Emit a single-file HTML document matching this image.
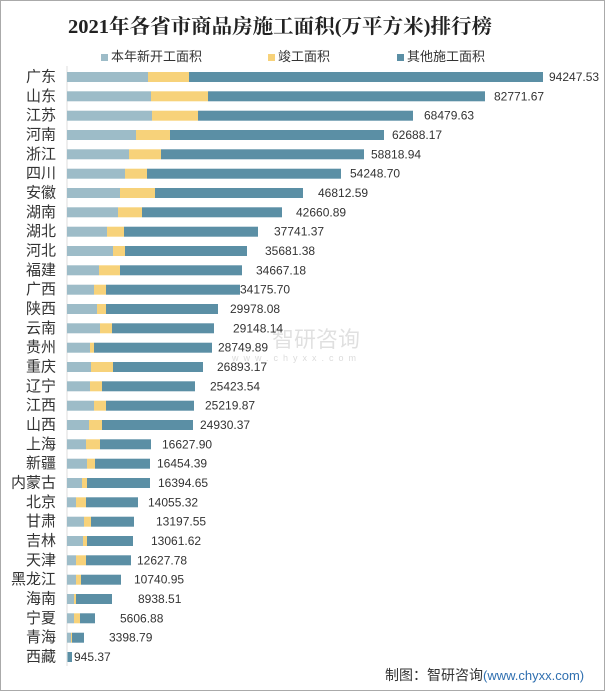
<!DOCTYPE html>
<html><head><meta charset="utf-8"><style>
html,body{margin:0;padding:0;background:#fff}
svg{display:block}
.c{font-family:"Liberation Sans","Noto Sans CJK SC",sans-serif;font-size:15px;fill:#333}
.v{font-family:"Liberation Sans",sans-serif;font-size:12px;fill:#333}
</style></head><body>
<svg width="605" height="691" xmlns="http://www.w3.org/2000/svg">
<rect x="0.5" y="0.5" width="604" height="690" fill="#fff" stroke="#aaa"/>
<text x="280" y="33" text-anchor="middle" textLength="424" lengthAdjust="spacingAndGlyphs" font-family="Liberation Serif,'Noto Serif CJK SC',serif" font-weight="bold" font-size="20" fill="#222">2021年各省市商品房施工面积(万平方米)排行榜</text>
<g font-family="Liberation Sans,'Noto Sans CJK SC',sans-serif" font-size="13" fill="#333">
<rect x="101" y="54" width="7" height="7" fill="#9dbcc8"/><text x="111" y="61">本年新开工面积</text>
<rect x="268" y="54" width="7" height="7" fill="#f7d27a"/><text x="278" y="61">竣工面积</text>
<rect x="397" y="54" width="7" height="7" fill="#5b8fa5"/><text x="407" y="61">其他施工面积</text>
</g>
<line x1="67" y1="66" x2="67" y2="666" stroke="#ddd"/>
<g id="bars">
<rect x="67" y="72" width="81" height="10" fill="#9dbcc8"/><rect x="148" y="72" width="41" height="10" fill="#f7d27a"/><rect x="189" y="72" width="354" height="10" fill="#5b8fa5"/>
<rect x="67" y="91.3" width="84" height="10" fill="#9dbcc8"/><rect x="151" y="91.3" width="57" height="10" fill="#f7d27a"/><rect x="208" y="91.3" width="277" height="10" fill="#5b8fa5"/>
<rect x="67" y="110.7" width="85" height="10" fill="#9dbcc8"/><rect x="152" y="110.7" width="46" height="10" fill="#f7d27a"/><rect x="198" y="110.7" width="215" height="10" fill="#5b8fa5"/>
<rect x="67" y="130" width="69" height="10" fill="#9dbcc8"/><rect x="136" y="130" width="34" height="10" fill="#f7d27a"/><rect x="170" y="130" width="214" height="10" fill="#5b8fa5"/>
<rect x="67" y="149.3" width="62" height="10" fill="#9dbcc8"/><rect x="129" y="149.3" width="32" height="10" fill="#f7d27a"/><rect x="161" y="149.3" width="203" height="10" fill="#5b8fa5"/>
<rect x="67" y="168.7" width="58" height="10" fill="#9dbcc8"/><rect x="125" y="168.7" width="22" height="10" fill="#f7d27a"/><rect x="147" y="168.7" width="194" height="10" fill="#5b8fa5"/>
<rect x="67" y="188" width="53" height="10" fill="#9dbcc8"/><rect x="120" y="188" width="35" height="10" fill="#f7d27a"/><rect x="155" y="188" width="148" height="10" fill="#5b8fa5"/>
<rect x="67" y="207.3" width="51" height="10" fill="#9dbcc8"/><rect x="118" y="207.3" width="24" height="10" fill="#f7d27a"/><rect x="142" y="207.3" width="140" height="10" fill="#5b8fa5"/>
<rect x="67" y="226.7" width="40" height="10" fill="#9dbcc8"/><rect x="107" y="226.7" width="17" height="10" fill="#f7d27a"/><rect x="124" y="226.7" width="134" height="10" fill="#5b8fa5"/>
<rect x="67" y="246" width="46" height="10" fill="#9dbcc8"/><rect x="113" y="246" width="12" height="10" fill="#f7d27a"/><rect x="125" y="246" width="122" height="10" fill="#5b8fa5"/>
<rect x="67" y="265.3" width="32" height="10" fill="#9dbcc8"/><rect x="99" y="265.3" width="21" height="10" fill="#f7d27a"/><rect x="120" y="265.3" width="122" height="10" fill="#5b8fa5"/>
<rect x="67" y="284.7" width="27" height="10" fill="#9dbcc8"/><rect x="94" y="284.7" width="12" height="10" fill="#f7d27a"/><rect x="106" y="284.7" width="134" height="10" fill="#5b8fa5"/>
<rect x="67" y="304" width="30" height="10" fill="#9dbcc8"/><rect x="97" y="304" width="9" height="10" fill="#f7d27a"/><rect x="106" y="304" width="112" height="10" fill="#5b8fa5"/>
<rect x="67" y="323.3" width="33" height="10" fill="#9dbcc8"/><rect x="100" y="323.3" width="12" height="10" fill="#f7d27a"/><rect x="112" y="323.3" width="102" height="10" fill="#5b8fa5"/>
<rect x="67" y="342.7" width="23" height="10" fill="#9dbcc8"/><rect x="90" y="342.7" width="4" height="10" fill="#f7d27a"/><rect x="94" y="342.7" width="118" height="10" fill="#5b8fa5"/>
<rect x="67" y="362" width="24" height="10" fill="#9dbcc8"/><rect x="91" y="362" width="22" height="10" fill="#f7d27a"/><rect x="113" y="362" width="90" height="10" fill="#5b8fa5"/>
<rect x="67" y="381.3" width="23" height="10" fill="#9dbcc8"/><rect x="90" y="381.3" width="12" height="10" fill="#f7d27a"/><rect x="102" y="381.3" width="93" height="10" fill="#5b8fa5"/>
<rect x="67" y="400.7" width="27" height="10" fill="#9dbcc8"/><rect x="94" y="400.7" width="12" height="10" fill="#f7d27a"/><rect x="106" y="400.7" width="88" height="10" fill="#5b8fa5"/>
<rect x="67" y="420" width="22" height="10" fill="#9dbcc8"/><rect x="89" y="420" width="13" height="10" fill="#f7d27a"/><rect x="102" y="420" width="91" height="10" fill="#5b8fa5"/>
<rect x="67" y="439.3" width="19" height="10" fill="#9dbcc8"/><rect x="86" y="439.3" width="14" height="10" fill="#f7d27a"/><rect x="100" y="439.3" width="51" height="10" fill="#5b8fa5"/>
<rect x="67" y="458.7" width="20" height="10" fill="#9dbcc8"/><rect x="87" y="458.7" width="8" height="10" fill="#f7d27a"/><rect x="95" y="458.7" width="55" height="10" fill="#5b8fa5"/>
<rect x="67" y="478" width="15" height="10" fill="#9dbcc8"/><rect x="82" y="478" width="5" height="10" fill="#f7d27a"/><rect x="87" y="478" width="63" height="10" fill="#5b8fa5"/>
<rect x="67" y="497.3" width="9" height="10" fill="#9dbcc8"/><rect x="76" y="497.3" width="10" height="10" fill="#f7d27a"/><rect x="86" y="497.3" width="52" height="10" fill="#5b8fa5"/>
<rect x="67" y="516.7" width="17" height="10" fill="#9dbcc8"/><rect x="84" y="516.7" width="7" height="10" fill="#f7d27a"/><rect x="91" y="516.7" width="43" height="10" fill="#5b8fa5"/>
<rect x="67" y="536" width="16" height="10" fill="#9dbcc8"/><rect x="83" y="536" width="4" height="10" fill="#f7d27a"/><rect x="87" y="536" width="46" height="10" fill="#5b8fa5"/>
<rect x="67" y="555.3" width="9" height="10" fill="#9dbcc8"/><rect x="76" y="555.3" width="10" height="10" fill="#f7d27a"/><rect x="86" y="555.3" width="45" height="10" fill="#5b8fa5"/>
<rect x="67" y="574.7" width="9" height="10" fill="#9dbcc8"/><rect x="76" y="574.7" width="5" height="10" fill="#f7d27a"/><rect x="81" y="574.7" width="40" height="10" fill="#5b8fa5"/>
<rect x="67" y="594" width="7" height="10" fill="#9dbcc8"/><rect x="74" y="594" width="2" height="10" fill="#f7d27a"/><rect x="76" y="594" width="36" height="10" fill="#5b8fa5"/>
<rect x="67" y="613.3" width="7" height="10" fill="#9dbcc8"/><rect x="74" y="613.3" width="6" height="10" fill="#f7d27a"/><rect x="80" y="613.3" width="15" height="10" fill="#5b8fa5"/>
<rect x="67" y="632.7" width="4" height="10" fill="#9dbcc8"/><rect x="71" y="632.7" width="1" height="10" fill="#f7d27a"/><rect x="72" y="632.7" width="12" height="10" fill="#5b8fa5"/>
<rect x="67" y="652" width="1" height="10" fill="#9dbcc8"/><rect x="68" y="652" width="4" height="10" fill="#5b8fa5"/>
</g>
<g class="c" text-anchor="end" dominant-baseline="central">
<text x="56" y="77">广东</text><text x="56" y="96.3">山东</text><text x="56" y="115.7">江苏</text><text x="56" y="135">河南</text><text x="56" y="154.3">浙江</text><text x="56" y="173.7">四川</text><text x="56" y="193">安徽</text><text x="56" y="212.3">湖南</text><text x="56" y="231.7">湖北</text><text x="56" y="251">河北</text><text x="56" y="270.3">福建</text><text x="56" y="289.7">广西</text><text x="56" y="309">陕西</text><text x="56" y="328.3">云南</text><text x="56" y="347.7">贵州</text><text x="56" y="367">重庆</text><text x="56" y="386.3">辽宁</text><text x="56" y="405.7">江西</text><text x="56" y="425">山西</text><text x="56" y="444.3">上海</text><text x="56" y="463.7">新疆</text><text x="56" y="483">内蒙古</text><text x="56" y="502.3">北京</text><text x="56" y="521.7">甘肃</text><text x="56" y="541">吉林</text><text x="56" y="560.3">天津</text><text x="56" y="579.7">黑龙江</text><text x="56" y="599">海南</text><text x="56" y="618.3">宁夏</text><text x="56" y="637.7">青海</text><text x="56" y="657">西藏</text>
</g>
<g class="v" dominant-baseline="central">
<text x="549" y="77">94247.53</text><text x="494" y="96.3">82771.67</text><text x="424" y="115.7">68479.63</text><text x="392" y="135">62688.17</text><text x="371" y="154.3">58818.94</text><text x="350" y="173.7">54248.70</text><text x="318" y="193">46812.59</text><text x="296" y="212.3">42660.89</text><text x="274" y="231.7">37741.37</text><text x="265" y="251">35681.38</text><text x="256" y="270.3">34667.18</text><text x="240" y="289.7">34175.70</text><text x="230" y="309">29978.08</text><text x="233" y="328.3">29148.14</text><text x="218" y="347.7">28749.89</text><text x="217" y="367">26893.17</text><text x="210" y="386.3">25423.54</text><text x="205" y="405.7">25219.87</text><text x="200" y="425">24930.37</text><text x="162" y="444.3">16627.90</text><text x="157" y="463.7">16454.39</text><text x="158" y="483">16394.65</text><text x="148" y="502.3">14055.32</text><text x="156" y="521.7">13197.55</text><text x="151" y="541">13061.62</text><text x="137" y="560.3">12627.78</text><text x="134" y="579.7">10740.95</text><text x="138" y="599">8938.51</text><text x="120" y="618.3">5606.88</text><text x="109" y="637.7">3398.79</text><text x="74" y="657">945.37</text>
</g>
<text x="272" y="347" font-family="Liberation Sans,'Noto Sans CJK SC',sans-serif" font-size="22" fill="#000" fill-opacity="0.12">智研咨询</text>
<text x="232" y="361" font-family="Liberation Sans,sans-serif" font-size="9" letter-spacing="5" fill="#000" fill-opacity="0.15">www.chyxx.com</text>
<text x="385" y="680" font-family="Liberation Sans,'Noto Sans CJK SC',sans-serif" font-size="14" fill="#333">制图：智研咨询<tspan fill="#2f6fb0" font-size="13">(www.chyxx.com)</tspan></text>
</svg>
</body></html>
